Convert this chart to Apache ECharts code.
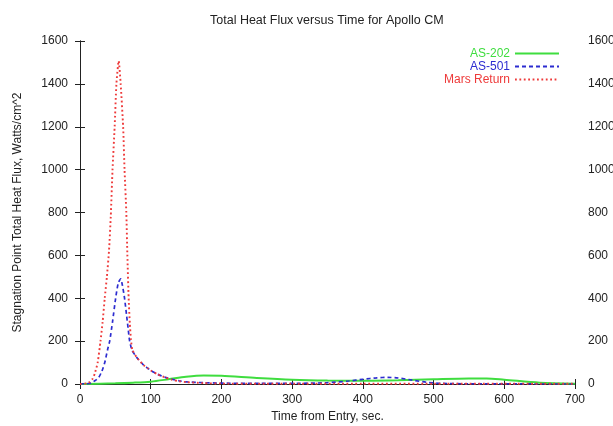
<!DOCTYPE html>
<html>
<head>
<meta charset="utf-8">
<script src="https://cdn.jsdelivr.net/npm/echarts@6/dist/echarts.min.js"></script>
<style>html,body{margin:0;padding:0;background:#fff;}#c{width:613px;height:426px;}</style>
</head>
<body>
<div id="c"></div>
<script>
var xTicks = [0, 100, 200, 300, 400, 500, 600, 700];
var yTicks = [0, 200, 400, 600, 800, 1000, 1200, 1400, 1600];

var as202T = [0, 50, 75, 100, 125, 150, 175, 200, 250, 300, 350, 400, 450, 500, 550, 575, 600, 650, 700];
var as202V = [0, 3, 6, 11, 22, 34, 40, 38, 28, 20, 16, 15, 17, 22, 26, 26, 20, 6, 1];

var as501T = [0, 10, 16, 21, 26.4, 31, 35, 39, 42, 46, 50.4, 54, 57.5, 60, 63, 66, 68, 70.2, 73.5, 80, 90, 96, 100, 110, 120, 130, 140, 150, 175, 200, 250, 300, 350, 380, 400, 420, 435, 450, 470, 490, 510, 550, 600, 650, 700];
var as501V = [0, 1, 5, 15, 30, 60, 100, 160, 200, 290, 400, 470, 491, 460, 400, 317, 261, 200, 158, 125, 88, 73, 63, 45, 32, 22, 15, 10, 6, 4, 3, 3, 6, 14, 22, 29, 31, 28, 18, 8, 3, 1, 1, 0, 0];

var marsT = [0, 10, 14, 18, 21, 25, 29, 32, 35, 38, 41, 43.5, 46, 49, 51.5, 54.7, 57.5, 61, 63, 65.5, 67, 68.8, 70.5, 72, 74, 80, 90, 96, 100, 110, 120, 130, 140, 150, 175, 200, 250, 300, 400, 500, 600, 700];
var marsV = [0, 3, 10, 25, 50, 100, 200, 290, 400, 500, 620, 780, 1000, 1200, 1400, 1507, 1400, 1200, 1000, 800, 600, 400, 280, 210, 160, 125, 88, 73, 63, 45, 31, 20, 13, 9, 4, 2, 1, 1, 1, 1, 1, 1];

function pairs(t, v) { return t.map(function (x, i) { return [x, v[i]]; }); }

var FONT = 'Liberation Sans';
var C_GREEN = '#3fdd3f', C_BLUE = '#2c2cd0', C_RED = '#ee3a3a';
var chart = echarts.init(document.getElementById('c'));
var labelBase = { color: '#222', fontFamily: FONT, fontSize: 12, formatter: function (v) { return String(v); } };
var axisCommon = {
  axisLine: { show: true, lineStyle: { color: '#222', width: 1 } },
  axisTick: { show: true, inside: false, length: 5, lineStyle: { color: '#222' } },
  splitLine: { show: false }
};
chart.setOption({
  backgroundColor: '#ffffff',
  animation: false,
  title: {
    text: 'Total Heat Flux versus Time for Apollo CM',
    left: 205, top: 9,
    textStyle: { fontFamily: FONT, fontSize: 12.5, fontWeight: 'normal', color: '#222' }
  },
  grid: { left: 80, right: 38, top: 41, bottom: 42, containLabel: false, outerBoundsMode: 'none' },
  legend: {
    orient: 'vertical', right: 48, top: 42, align: 'right',
    itemWidth: 44, itemHeight: 13, itemGap: 0,
    itemStyle: { opacity: 0 },
    textStyle: { fontFamily: FONT, fontSize: 12, lineHeight: 13 },
    data: [
      { name: 'AS-202', textStyle: { color: C_GREEN } },
      { name: 'AS-501', textStyle: { color: C_BLUE } },
      { name: 'Mars Return', textStyle: { color: C_RED } }
    ]
  },
  xAxis: [
    Object.assign({}, axisCommon, {
      type: 'value', min: 0, max: 700, interval: 100, position: 'bottom',
      name: 'Time from Entry, sec.', nameLocation: 'middle', nameGap: 27,
      nameTextStyle: { fontFamily: FONT, fontSize: 12, color: '#222' },
      axisLabel: Object.assign({}, labelBase, { margin: 10 })
    }),
    Object.assign({}, axisCommon, {
      type: 'value', min: 0, max: 700, interval: 100, position: 'top',
      axisLabel: { show: false }
    })
  ],
  yAxis: [
    Object.assign({}, axisCommon, {
      type: 'value', min: 0, max: 1600, interval: 200, position: 'left',
      name: 'Stagnation Point Total Heat Flux, Watts/cm^2', nameLocation: 'middle', nameGap: 56,
      nameTextStyle: { fontFamily: FONT, fontSize: 12, color: '#222' },
      axisLabel: Object.assign({}, labelBase, { margin: 12 })
    }),
    Object.assign({}, axisCommon, {
      type: 'value', min: 0, max: 1600, interval: 200, position: 'right',
      axisLabel: Object.assign({}, labelBase, { margin: 13 })
    })
  ],
  series: [
    { name: 'AS-202', type: 'line', smooth: 0.3, symbol: 'none', data: pairs(as202T, as202V),
      itemStyle: { color: C_GREEN }, lineStyle: { color: C_GREEN, width: 2, type: 'solid' }, z: 3 },
    { name: 'AS-501', type: 'line', smooth: 0.2, symbol: 'none', data: pairs(as501T, as501V),
      itemStyle: { color: C_BLUE }, lineStyle: { color: C_BLUE, width: 1.7, type: [4, 3] }, z: 4 },
    { name: 'Mars Return', type: 'line', smooth: 0.2, symbol: 'none', data: pairs(marsT, marsV),
      itemStyle: { color: C_RED }, lineStyle: { color: C_RED, width: 1.9, type: [1.8, 2.6] }, z: 5 }
  ]
});
</script>
</body>
</html>
